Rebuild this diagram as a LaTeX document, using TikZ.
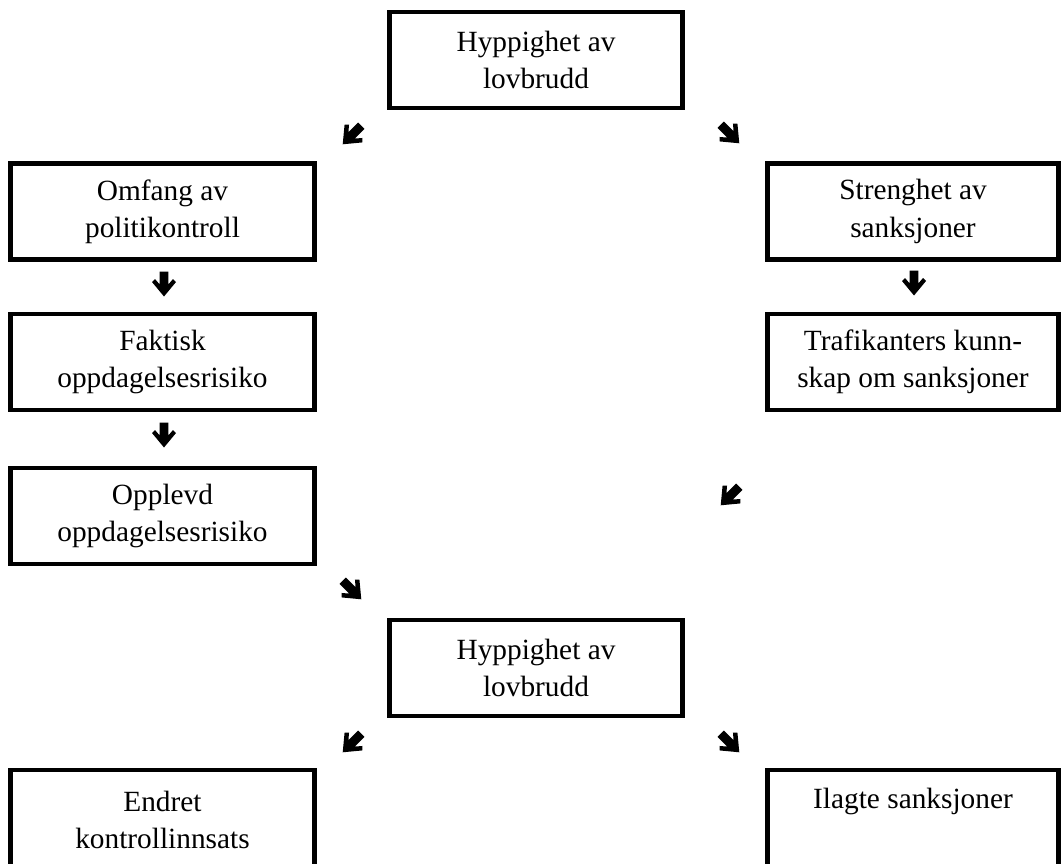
\documentclass[tikz,border=0pt]{standalone}
\usepackage{fontspec}
\setmainfont{Liberation Serif}
\begin{document}
\begin{tikzpicture}[x=0.75pt,y=-0.75pt,
  box/.style={draw,line width=3.4pt,inner sep=0pt,align=center,
    font=\fontsize{22}{28}\selectfont},
  lbox/.style={box,minimum width=228pt,minimum height=72pt},
  rbox/.style={box,minimum width=218pt,minimum height=72pt},
  mbox/.style={box,minimum width=220pt,minimum height=72pt},
  dnarrow/.pic={\fill (-4.3,-12.5) -- (4.3,-12.5) -- (4.3,0.5) -- (9,-5) -- (12,-2)
     -- (0,12.5) -- (-12,-2) -- (-9,-5) -- (-4.3,0.5) -- cycle;}]
\useasboundingbox (0,0) rectangle (1061,864);
\node[mbox] (top) at (536,60) {Hyppighet av\\lovbrudd};
\node[lbox] (omfang) at (162.5,211.5) {Omfang av\\politikontroll};
\node[rbox] (streng) at (913,211.5) {Strenghet av\\sanksjoner};
\node[lbox] (faktisk) at (162.5,362) {Faktisk\\oppdagelsesrisiko};
\node[rbox] (trafik) at (913,362) {Trafikanters kunn-\\skap om sanksjoner};
\node[lbox] (opplevd) at (162.5,516) {Opplevd\\oppdagelsesrisiko};
\node[mbox] (mid) at (536,668) {Hyppighet av\\lovbrudd};
\begin{scope}
\clip (0,0) rectangle (1061,864);
\node[lbox,minimum height=75pt] (endret) at (162.5,820) {Endret\\kontrollinnsats};
\node[rbox,minimum height=75pt] (ilagte) at (913,820) {\strut Ilagte sanksjoner\\\strut};
\end{scope}
\pic[rotate=-45,scale=1.05] at (352,135) {dnarrow};
\pic[rotate=45,scale=1.05] at (730,134) {dnarrow};
\pic at (164,284) {dnarrow};
\pic at (914,283) {dnarrow};
\pic at (164,435) {dnarrow};
\pic[rotate=-45,scale=1.05] at (730,496) {dnarrow};
\pic[rotate=45,scale=1.05] at (352,590) {dnarrow};
\pic[rotate=-45,scale=1.05] at (352,743) {dnarrow};
\pic[rotate=45,scale=1.05] at (730,743) {dnarrow};
\end{tikzpicture}
\end{document}
